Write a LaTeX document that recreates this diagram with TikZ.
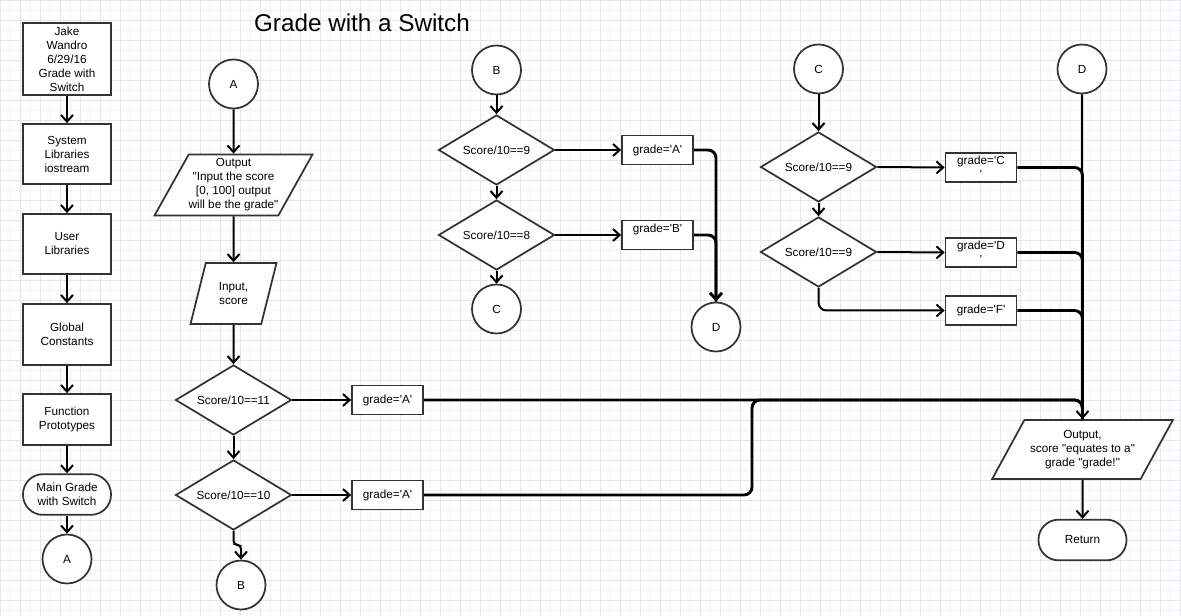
\documentclass[tikz,border=0pt]{standalone}
\usepackage{fontspec}
\setmainfont{Liberation Sans}
\usetikzlibrary{shapes.geometric,positioning,arrows.meta}
\definecolor{gridc}{RGB}{241,241,249}
\definecolor{gridd}{RGB}{228,228,242}
\definecolor{edge}{RGB}{51,51,51}
\newcommand{\sqt}{\textquotesingle}
\newcommand{\dqt}{\textquotedbl}

\begin{document}
\begin{tikzpicture}[x=0.75pt, y=-0.75pt,
    font=\fontsize{8.8}{10.5}\selectfont,
    base/.style={draw=edge, line width=1.3pt, fill=white, align=center, inner sep=0pt},
    box/.style={base, rectangle, minimum width=66pt},
    gbox/.style={base, rectangle, minimum width=53.25pt, minimum height=21.75pt},
    term/.style={base, rectangle, rounded corners=15pt, minimum width=66pt, minimum height=30.5pt},
    conn/.style={base, circle, minimum size=36.75pt},
    dec/.style={base, diamond, shape aspect=1.66, minimum width=87pt, minimum height=52.5pt},
    io/.style={base, trapezium, trapezium stretches=true},
    arr/.style={line width=1.5pt, -{Straight Barb[length=5pt,width=9pt]}},
    merge/.style={line width=2.2pt, rounded corners=6pt},
]
\useasboundingbox (0,0) rectangle (1181,616);
\fill[white] (0,0) rectangle (1181,616);
\draw[gridc, line width=0.4pt, step=7.5pt] (0,0) grid (1181,616);
\draw[gridd, line width=0.5pt, step=15pt] (0,0) grid (1181,616);

\node[font=\fontsize{18.2}{20}\selectfont] (title) at (362,23) {Grade with a Switch};

\node[box, minimum height=54pt] (info) at (67,59) {Jake\\Wandro\\6/29/16\\Grade with\\Switch};
\node[box, minimum height=45pt] (syslib) at (67,154) {System\\Libraries\\iostream};
\node[box, minimum height=45pt] (usrlib) at (67,244) {User\\Libraries};
\node[box, minimum height=45.75pt] (glob) at (67,334.5) {Global\\Constants};
\node[box, minimum height=38.25pt] (proto) at (67,419.5) {Function\\Prototypes};
\node[term] (main) at (67,494.5) {Main Grade\\with Switch};
\node[conn] (a0) at (67,559) {A};

\node[conn] (a1) at (233.5,84) {A};
\node[io, trapezium left angle=57, trapezium right angle=123, minimum width=118.5pt, minimum height=45.75pt] (prompt) at (233.5,185) {Output\\\dqt Input the score\\{}[0, 100] output\\will be the grade\dqt};
\node[io, trapezium left angle=70, trapezium right angle=110, minimum width=64.5pt, minimum height=45.75pt] (inscore) at (233.5,293.5) {Input,\\score};
\node[dec] (s11) at (233.5,400) {Score/10==11};
\node[dec] (s10) at (233.5,495) {Score/10==10};
\node[gbox] (ga1) at (387.5,400) {grade=\sqt A\sqt};
\node[gbox] (ga2) at (387.5,495) {grade=\sqt A\sqt};
\node[conn] (b1) at (241,585) {B};

\node[conn] (b2) at (496.5,70) {B};
\node[dec] (s9) at (496.5,150) {Score/10==9};
\node[dec] (s8) at (496.5,235) {Score/10==8};
\node[gbox] (ga3) at (657.5,150) {grade=\sqt A\sqt};
\node[gbox] (gb) at (657.5,235) {grade=\sqt B\sqt\\\mbox{}};
\node[conn] (c1) at (496.5,309) {C};
\node[conn] (d1) at (716,327) {D};

\node[conn] (c2) at (818.5,69) {C};
\node[dec] (t9a) at (818.5,167) {Score/10==9};
\node[dec] (t9b) at (818.5,252) {Score/10==9};
\node[gbox] (gc) at (981,167.5) {grade=\sqt C\\\sqt};
\node[gbox] (gd) at (981,252.5) {grade=\sqt D\\\sqt};
\node[gbox] (gf) at (981,310.5) {grade=\sqt F\sqt};
\node[conn] (d2) at (1082,69) {D};
\node[io, trapezium left angle=53, trapezium right angle=127, minimum width=135.75pt, minimum height=44.25pt] (result) at (1082.5,449.5) {Output,\\score \dqt equates to a\dqt\\grade \dqt grade!\dqt};
\node[term] (ret) at (1082.5,540) {Return};

\coordinate (jn) at (752,400);

\foreach \u/\v in {info/syslib, syslib/usrlib, usrlib/glob, glob/proto, proto/main, main/a0,
    a1/prompt, prompt/inscore, inscore/s11, s11/s10, b2/s9, s9/s8, s8/c1, c2/t9a, t9a/t9b, result/ret}
  \draw[arr] (\u.south) -- (\v.north);
\foreach \u/\v in {s11/ga1, s10/ga2, s9/ga3, s8/gb, t9a/gc, t9b/gd}
  \draw[arr] (\u.east) -- (\v.west);
\draw[arr, rounded corners=6pt] (t9b.south) |- (gf.west);
\draw[arr, rounded corners=3pt] (s10.south) -- ++(0,14) -| (b1.north);

\draw[merge] (gb.east) -| (d1.north);
\draw[merge, -{Straight Barb[length=5pt,width=9pt]}] (ga3.east) -| (d1.north);
\draw[merge] (ga2.east) -| (jn) -| (result.north);
\draw[merge] (ga1.east) -| (result.north);
\foreach \g in {gc, gd, gf}
  \draw[merge] (\g.east) -| (result.north);
\draw[arr] (d2.south) -- (result.north);
\end{tikzpicture}
\end{document}
